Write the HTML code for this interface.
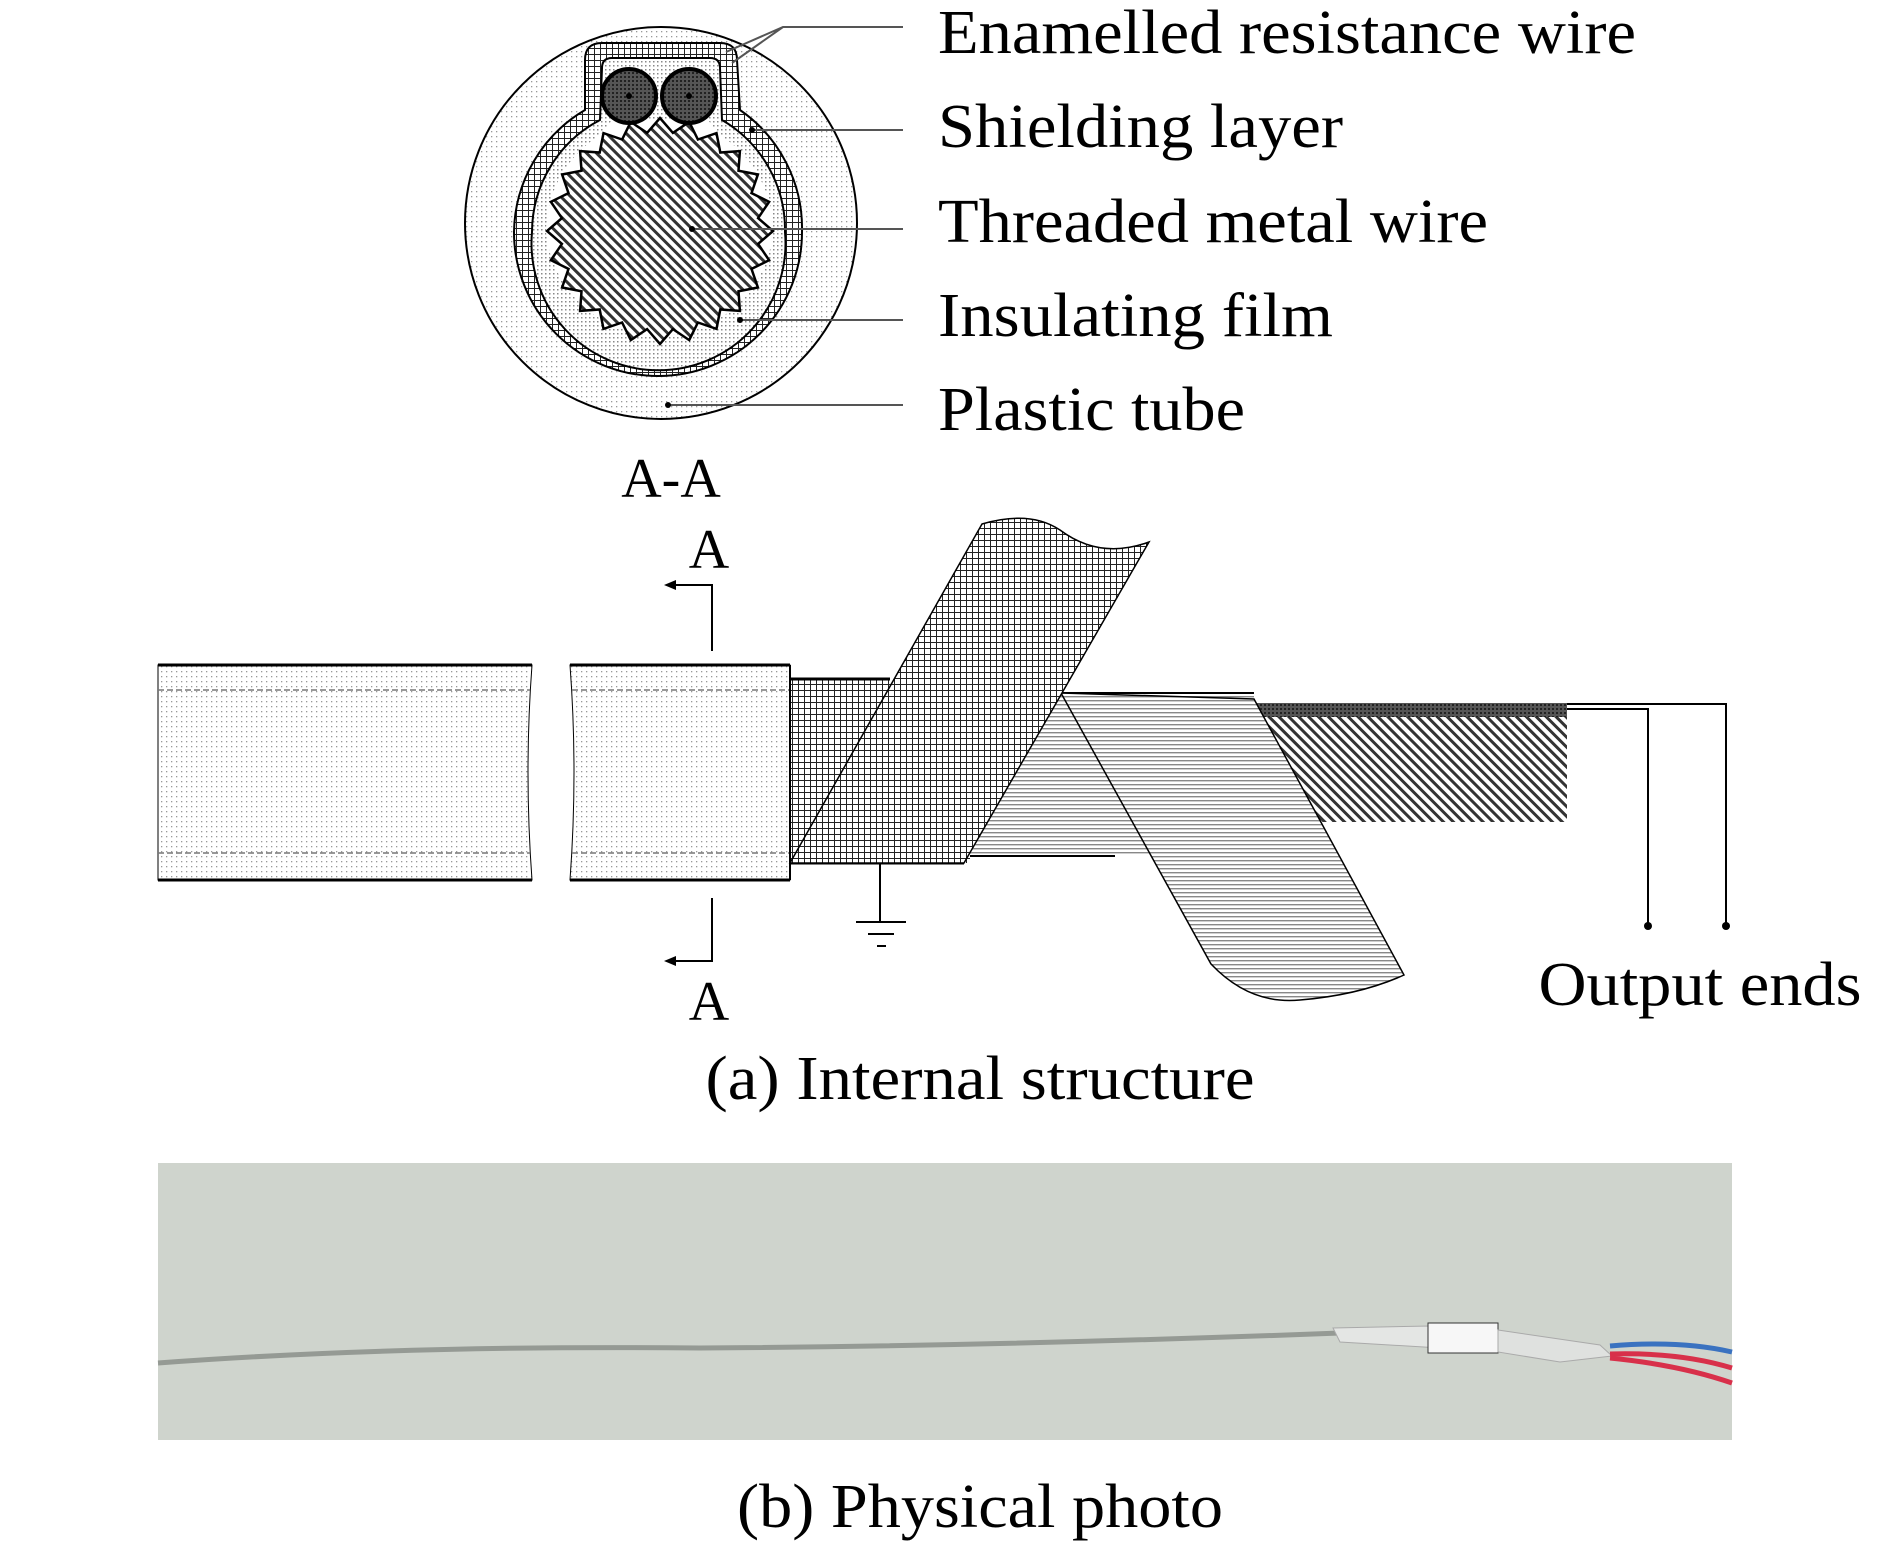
<!DOCTYPE html>
<html><head><meta charset="utf-8"><style>
html,body{margin:0;padding:0;background:#fff;}
svg{display:block;}
text{font-family:"Liberation Serif",serif;fill:#000;}
</style></head><body>
<svg width="1890" height="1550" viewBox="0 0 1890 1550" xmlns="http://www.w3.org/2000/svg">
<defs>
<pattern id="dots" width="5" height="5" patternUnits="userSpaceOnUse"><rect width="5" height="5" fill="#fff"/><rect x="1" y="1" width="1.3" height="1.3" fill="#999"/></pattern>
<pattern id="dots2" width="4" height="4" patternUnits="userSpaceOnUse"><rect width="4" height="4" fill="#fff"/><rect x="1" y="1" width="1.5" height="1.5" fill="#888"/></pattern>
<pattern id="grid" width="6" height="6" patternUnits="userSpaceOnUse"><rect width="6" height="6" fill="#fff"/><path d="M0 0.5H6M0.5 0V6" stroke="#222" stroke-width="1"/></pattern>
<pattern id="diag" width="7" height="7" patternUnits="userSpaceOnUse" patternTransform="rotate(45)"><rect width="7" height="7" fill="#fff"/><rect width="7" height="3" fill="#333"/></pattern>
<pattern id="hl" width="4" height="4" patternUnits="userSpaceOnUse"><rect width="4" height="4" fill="#fff"/><rect width="4" height="1.4" fill="#888"/></pattern>
<pattern id="dark" width="4" height="4" patternUnits="userSpaceOnUse"><rect width="4" height="4" fill="#555"/><rect width="2" height="2" fill="#222"/></pattern>
</defs>

<!-- cross section -->
<circle cx="661" cy="223" r="196" fill="url(#dots)" stroke="#000" stroke-width="2"/>
<path d="M514 232 A144 144 0 1 0 802 232 A144 144 0 0 0 740 110 L737 60 Q737 43 720 43 L602 43 Q585 43 585 60 L585 110 A144 144 0 0 0 514 232 Z" fill="url(#grid)" stroke="#000" stroke-width="2"/>
<path d="M532 232 A127 127 0 1 0 785 232 A127 127 0 0 0 722 120 L720 68 Q720 58 710 58 L612 58 Q602 58 602 68 L600 120 A127 127 0 0 0 532 232 Z" fill="url(#dots2)" stroke="#000" stroke-width="2"/>
<path d="M546 232 A114 114 0 0 0 773 232 A114 114 0 0 0 720 135 L708 120 L612 120 L600 135 A114 114 0 0 0 546 232 Z" fill="#fff" stroke="none"/>
<path d="M773,231 758.1,243.9 769.1,260.2 751.5,268.9 757.9,287.5 738.5,291.3 739.9,310.9 720.3,309.5 716.5,328.9 697.9,322.5 689.2,340.1 672.9,329.1 660,344 647.1,329.1 630.8,340.1 622.1,322.5 603.5,328.9 599.7,309.5 580.1,310.9 581.5,291.3 562.1,287.5 568.5,268.9 550.9,260.2 561.9,243.9 547,231 561.9,218.1 550.9,201.8 568.5,193.1 562.1,174.5 581.5,170.7 580.1,151.1 599.7,152.5 603.5,133.1 622.1,139.5 630.8,121.9 647.1,132.9 660,118 672.9,132.9 689.2,121.9 697.9,139.5 716.5,133.1 720.3,152.5 739.9,151.1 738.5,170.7 757.9,174.5 751.5,193.1 769.1,201.8 758.1,218.1 Z" fill="url(#diag)" stroke="#000" stroke-width="2.5"/>
<circle cx="629" cy="96" r="27" fill="url(#dark)" stroke="#000" stroke-width="4"/>
<circle cx="689" cy="96" r="27" fill="url(#dark)" stroke="#000" stroke-width="4"/>
<circle cx="629" cy="96" r="3" fill="#000"/><circle cx="689" cy="96" r="3" fill="#000"/>
<g stroke="#555" stroke-width="2" fill="none">
<path d="M726 52 L783 27 L903 27 M732 63 L783 27"/>
<path d="M752 130 L903 130"/>
<path d="M692 229 L903 229"/>
<path d="M740 320 L903 320"/>
<path d="M668 405 L903 405"/>
</g>
<circle cx="752" cy="130" r="3"/><circle cx="692" cy="229" r="3"/><circle cx="740" cy="320" r="3"/><circle cx="668" cy="405" r="3"/>
<text x="938" y="53" font-size="62" textLength="698" lengthAdjust="spacingAndGlyphs">Enamelled resistance wire</text>
<text x="938" y="147" font-size="62" textLength="405" lengthAdjust="spacingAndGlyphs">Shielding layer</text>
<text x="938" y="242" font-size="62" textLength="550" lengthAdjust="spacingAndGlyphs">Threaded metal wire</text>
<text x="938" y="336" font-size="62" textLength="395" lengthAdjust="spacingAndGlyphs">Insulating film</text>
<text x="938" y="430" font-size="62" textLength="307" lengthAdjust="spacingAndGlyphs">Plastic tube</text>
<text x="671" y="497" font-size="56" text-anchor="middle">A-A</text>

<!-- section markers -->
<text x="709" y="568" font-size="56" text-anchor="middle">A</text>
<path d="M712 651 L712 585 L675 585" stroke="#000" stroke-width="2" fill="none"/>
<path d="M664 585 L676 580 L676 590 Z"/>
<path d="M712 898 L712 961 L675 961" stroke="#000" stroke-width="2" fill="none"/>
<path d="M664 961 L676 956 L676 966 Z"/>
<text x="709" y="1020" font-size="56" text-anchor="middle">A</text>

<!-- tube pieces -->
<path d="M158 665 L532 665 Q524 772 532 880 L158 880 Z" fill="url(#dots)" stroke="#000" stroke-width="1"/>
<path d="M158 665H532M158 880H532" stroke="#000" stroke-width="3"/>
<path d="M570 665 L790 665 L790 880 L570 880 Q578 772 570 665 Z" fill="url(#dots)" stroke="#000" stroke-width="1"/>
<path d="M570 665H790M570 880H790" stroke="#000" stroke-width="3"/>
<path d="M158 690H530M572 690H790M158 853H530M572 853H790" stroke="#777" stroke-width="1.5" stroke-dasharray="6 3"/>

<!-- insulating film rect + band -->
<path d="M970 693 L1254 693 L1254 856 L970 856 Z" fill="url(#hl)"/>
<path d="M970 693H1254M970 856H1115" stroke="#000" stroke-width="2"/>
<!-- threaded metal -->
<path d="M1254 705 L1567 705 L1567 822 L1300 822 Z" fill="url(#diag)"/>
<rect x="1254" y="703" width="313" height="14" fill="url(#dark)"/>
<path d="M1061 693 L1211 964 Q1250 1005 1300 1000 Q1360 995 1404 975 L1254 699 Z" fill="url(#hl)" stroke="#000" stroke-width="1.5"/>
<!-- shielding -->
<rect x="790" y="679" width="180" height="184" fill="url(#grid)"/>
<path d="M790 679H890M790 863H964" stroke="#000" stroke-width="3"/>
<path d="M790 863 L982 524 Q1030 510 1060 530 Q1100 560 1149 542 L964 863 Z" fill="url(#grid)" stroke="#000" stroke-width="1.5"/>
<path d="M790 665V880" stroke="#000" stroke-width="2"/>

<!-- output wires -->
<path d="M1567 709 H1648 V926 M1567 704 H1726 V926" stroke="#000" stroke-width="2" fill="none"/>
<circle cx="1648" cy="926" r="4"/><circle cx="1726" cy="926" r="4"/>
<text x="1700" y="1005" font-size="62" text-anchor="middle" textLength="323" lengthAdjust="spacingAndGlyphs">Output ends</text>

<!-- ground -->
<path d="M880 863V922M856 922H906M868 934H894M877 946H886" stroke="#000" stroke-width="2"/>

<text x="980" y="1099" font-size="62" text-anchor="middle" textLength="549" lengthAdjust="spacingAndGlyphs">(a) Internal structure</text>

<!-- photo -->
<rect x="158" y="1163" width="1574" height="277" fill="#cfd4cd"/>
<path d="M158 1363 Q400 1345 700 1348 Q1000 1346 1340 1333" stroke="#959a94" stroke-width="5" fill="none"/>
<path d="M1333 1328 L1430 1326 L1440 1348 L1340 1342 Z" fill="#e4e6e4" stroke="#aaa"/>
<rect x="1428" y="1323" width="70" height="30" fill="#f7f7f7" stroke="#333"/>
<path d="M1498 1330 L1600 1345 L1612 1356 L1560 1362 L1498 1352 Z" fill="#dfe1df" stroke="#aaa"/>
<path d="M1610 1346 Q1680 1340 1732 1352" stroke="#3a72c0" stroke-width="5" fill="none"/>
<path d="M1610 1354 Q1680 1352 1732 1368" stroke="#d8304a" stroke-width="5" fill="none"/>
<path d="M1610 1358 Q1680 1365 1732 1383" stroke="#d8304a" stroke-width="5" fill="none"/>

<text x="980" y="1527" font-size="62" text-anchor="middle" textLength="486" lengthAdjust="spacingAndGlyphs">(b) Physical photo</text>
</svg>
</body></html>
